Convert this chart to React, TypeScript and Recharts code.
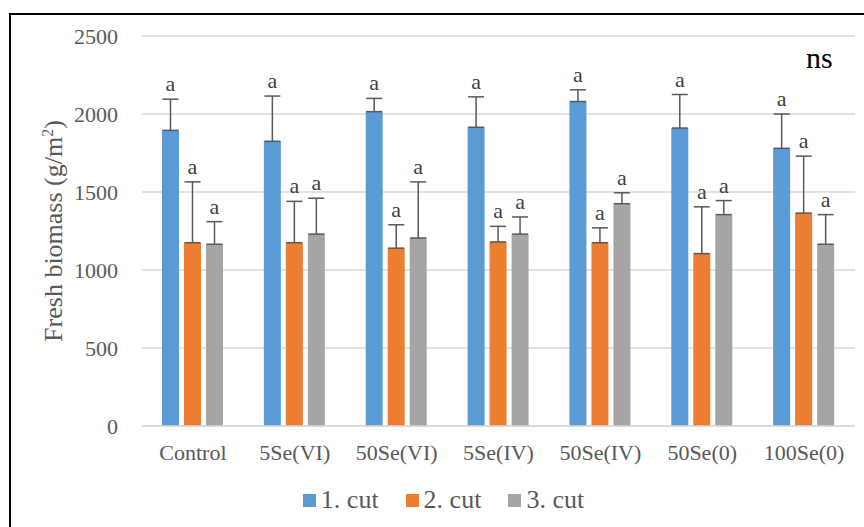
import React from "react";
import {
  BarChart,
  Bar,
  XAxis,
  YAxis,
  CartesianGrid,
  ErrorBar,
  LabelList,
  Legend,
  Label
} from "recharts";

const treatments = ["Control", "5Se(VI)", "50Se(VI)", "5Se(IV)", "50Se(IV)", "50Se(0)", "100Se(0)"];
const cut1 = [1895, 1825, 2015, 1915, 2080, 1910, 1780];
const cut2 = [1175, 1175, 1140, 1180, 1175, 1105, 1365];
const cut3 = [1165, 1230, 1205, 1230, 1425, 1355, 1165];
const cut1Sd = [200, 290, 85, 195, 75, 215, 220];
const cut2Sd = [390, 265, 150, 100, 95, 300, 365];
const cut3Sd = [145, 230, 360, 110, 70, 90, 190];
const yTicks = [0, 500, 1000, 1500, 2000, 2500];
const letters = ["a", "a", "a", "a", "a", "a", "a"];

const seriesNames = ["1. cut", "2. cut", "3. cut"];
const colors = ["#5B9BD5", "#ED7D31", "#A5A5A5"];

const data = treatments.map((t, i) => ({
  name: t,
  c1: cut1[i],
  c2: cut2[i],
  c3: cut3[i],
  e1: [0, cut1Sd[i]],
  e2: [0, cut2Sd[i]],
  e3: [0, cut3Sd[i]],
  l1: letters[i],
  l2: letters[i],
  l3: letters[i]
}));

const serif = "'Liberation Serif', 'Times New Roman', serif";

function letterLabel(sd: number[], values: number[]) {
  return (props: any) => {
    const { x, y, width, height, index, value } = props;
    const v = values[index];
    const scale = v ? height / v : 0;
    const top = y - sd[index] * scale;
    return (
      <text
        x={x + width / 2}
        y={top - 8}
        textAnchor="middle"
        fontFamily={serif}
        fontSize={22}
        fill="#404040"
      >
        {value}
      </text>
    );
  };
}

function LegendBox() {
  return (
    <div style={{ display: "flex", justifyContent: "center", gap: 27, paddingLeft: 32 }}>
      {seriesNames.map((n, i) => (
        <div key={n} style={{ display: "flex", alignItems: "center" }}>
          <span style={{ width: 13, height: 13, background: colors[i], marginRight: 5, display: "inline-block" }} />
          <span style={{ fontFamily: serif, fontSize: 26, color: "#595959", lineHeight: 1 }}>{n}</span>
        </div>
      ))}
    </div>
  );
}

export default function App() {
  return (
    <div style={{ position: "absolute", left: 0, top: 0, width: 864, height: 527, overflow: "hidden", background: "#fff" }}>
      <div
        style={{
          position: "absolute",
          left: 9,
          top: 13,
          width: 900,
          height: 600,
          border: "2px solid #000"
        }}
      />
      <div style={{ position: "absolute", left: 0, top: 0 }}>
        <BarChart
          width={864}
          height={527}
          data={data}
          margin={{ top: 36, right: 9, left: 0, bottom: 4 }}
          barSize={17}
          barGap={5}
        >
          <CartesianGrid vertical={false} stroke="#d9d9d9" strokeWidth={1.5} />
          <XAxis
            dataKey="name"
            height={61}
            tickLine={false}
            axisLine={{ stroke: "#d9d9d9", strokeWidth: 1.5 }}
            tick={{ fontSize: 22, fill: "#595959", fontFamily: serif }}
            tickMargin={12}
            interval={0}
          />
          <YAxis
            width={142}
            domain={[0, 2500]}
            ticks={yTicks}
            tickLine={false}
            axisLine={false}
            tickSize={0}
            tickMargin={24}
            tick={{ fontSize: 22, fill: "#595959", fontFamily: serif }}
          >
            <Label
              content={(p: any) => {
                const vb = p.viewBox;
                const cx = 62;
                const cy = vb.y + vb.height / 2;
                return (
                  <text
                    x={cx}
                    y={cy}
                    transform={`rotate(-90, ${cx}, ${cy})`}
                    textAnchor="middle"
                    fontFamily={serif}
                    fontSize={26}
                    fill="#595959"
                  >
                    Fresh biomass (g/m
                    <tspan dy={-9} fontSize={16}>2</tspan>
                    <tspan dy={9}>)</tspan>
                  </text>
                );
              }}
            />
          </YAxis>
          <Legend verticalAlign="bottom" height={36} content={() => <LegendBox />} />
          <Bar dataKey="c1" name={seriesNames[0]} fill={colors[0]} isAnimationActive={false}>
            <ErrorBar dataKey="e1" width={8} stroke="#595959" strokeWidth={1.5} direction="y" />
            <LabelList dataKey="l1" content={letterLabel(cut1Sd, cut1)} />
          </Bar>
          <Bar dataKey="c2" name={seriesNames[1]} fill={colors[1]} isAnimationActive={false}>
            <ErrorBar dataKey="e2" width={8} stroke="#595959" strokeWidth={1.5} direction="y" />
            <LabelList dataKey="l2" content={letterLabel(cut2Sd, cut2)} />
          </Bar>
          <Bar dataKey="c3" name={seriesNames[2]} fill={colors[2]} isAnimationActive={false}>
            <ErrorBar dataKey="e3" width={8} stroke="#595959" strokeWidth={1.5} direction="y" />
            <LabelList dataKey="l3" content={letterLabel(cut3Sd, cut3)} />
          </Bar>
        </BarChart>
      </div>
      <div
        style={{
          position: "absolute",
          left: 806,
          top: 43,
          fontFamily: serif,
          fontSize: 30,
          lineHeight: 1,
          color: "#000"
        }}
      >
        ns
      </div>
    </div>
  );
}
